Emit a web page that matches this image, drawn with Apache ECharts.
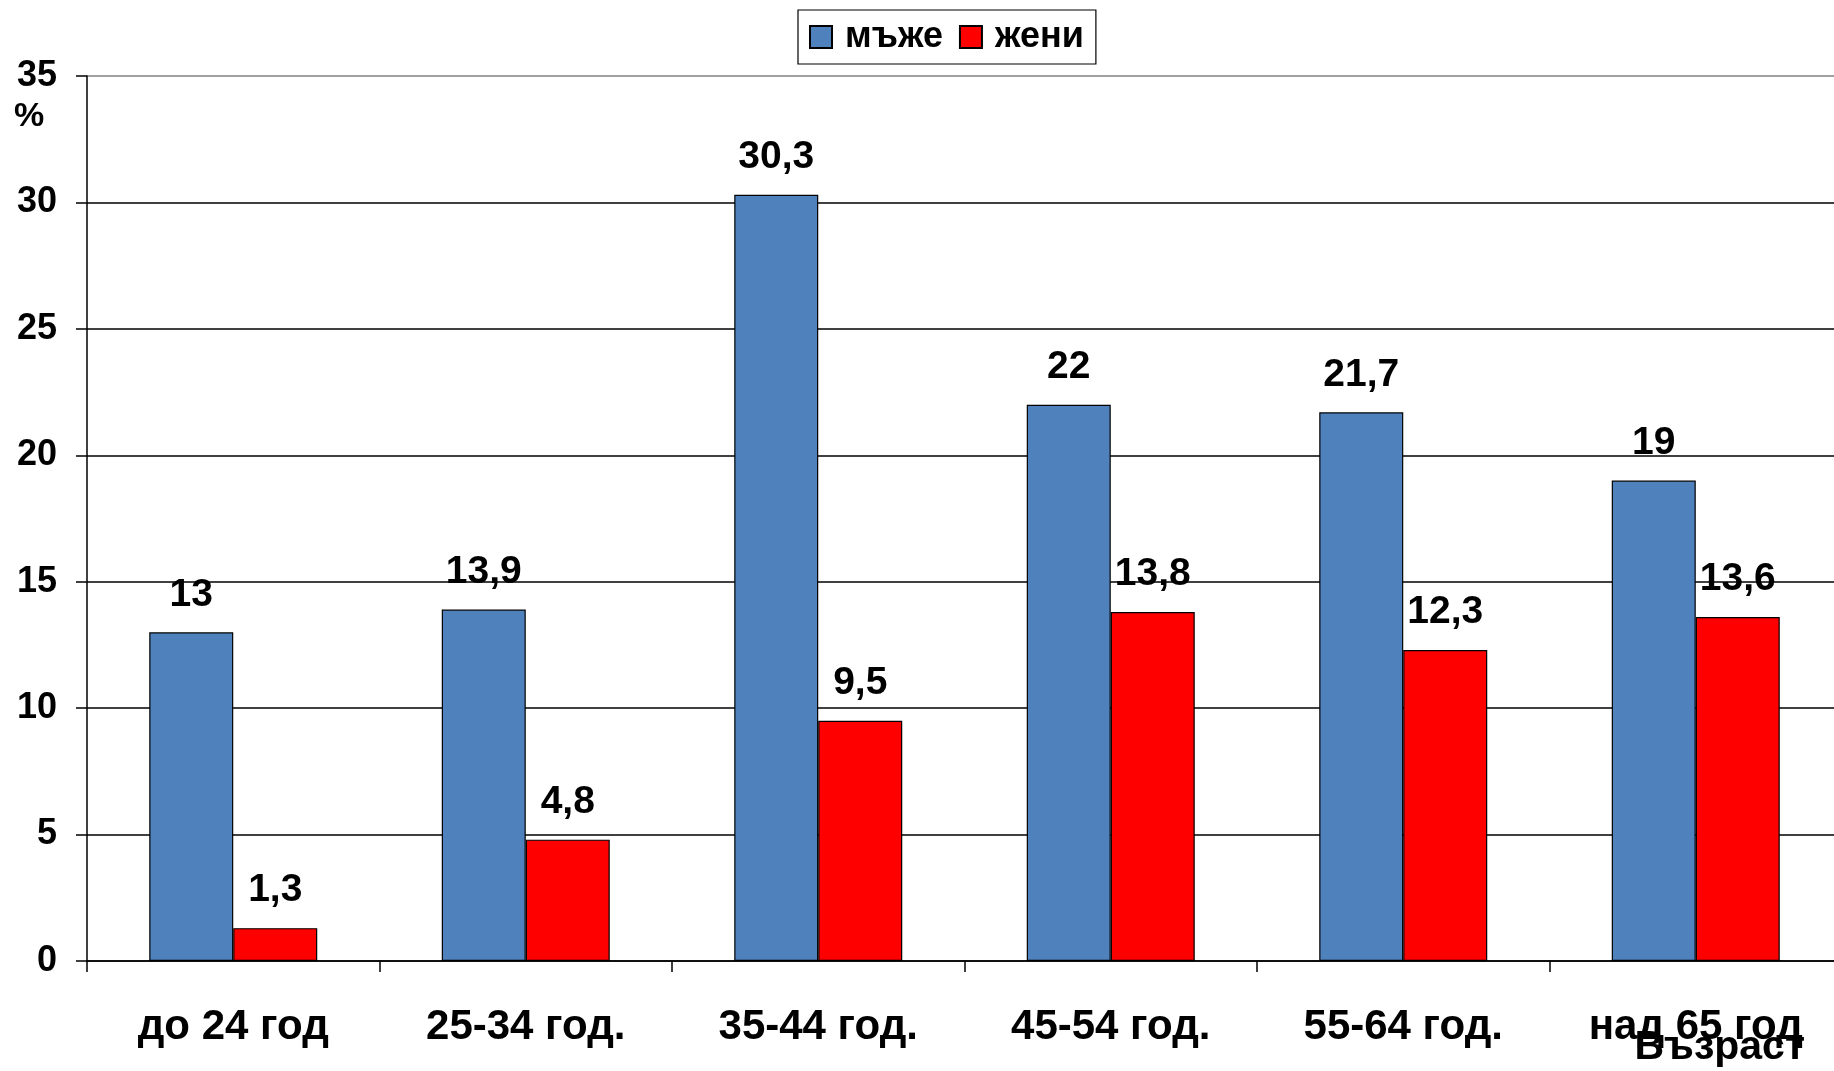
<!DOCTYPE html>
<html>
<head>
<meta charset="utf-8">
<script src="https://cdn.jsdelivr.net/npm/echarts@6/dist/echarts.min.js"></script>
<style>
  html, body { margin: 0; padding: 0; background: #fff; overflow: hidden; }
  /* the plot area runs a few pixels past the right edge of the window */
  #chart { width: 1842px; height: 1071px; }
</style>
</head>
<body>
<div id="chart"></div>
<script>
// Age groups
const categories = ['до 24 год', '25-34 год.', '35-44 год.', '45-54 год.', '55-64 год.', 'над 65 год'];
// Share (%) by sex
const men = [13, 13.9, 30.3, 22, 21.7, 19];
const women = [1.3, 4.8, 9.5, 13.8, 12.3, 13.6];
// Value axis ticks
const yMin = 0, yMax = 35, yStep = 5;

const FONT = '"Liberation Sans", Arial, sans-serif';
const fmt = p => String(p.value).replace('.', ',');

const labelStyle = {
  show: true,
  position: 'top',
  distance: 18,
  color: '#000',
  fontFamily: FONT,
  fontWeight: 'bold',
  fontSize: 39,
  lineHeight: 39,
  formatter: fmt
};

const chart = echarts.init(document.getElementById('chart'), null, { renderer: 'canvas' });
chart.setOption({
  animation: false,
  backgroundColor: '#fff',
  textStyle: { fontFamily: FONT },
  legend: {
    left: 798,
    top: 10,
    padding: [9, 12, 9, 11],
    itemWidth: 22,
    itemHeight: 22,
    itemGap: 16,
    borderColor: '#000',
    borderWidth: 1.2,
    icon: 'rect',
    textStyle: { fontFamily: FONT, fontWeight: 'bold', fontSize: 36, color: '#000', padding: [0, 0, 0, 8] },
    data: ['мъже', 'жени']
  },
  grid: { left: 87, right: 0, top: 76, bottom: 110, containLabel: false },
  xAxis: {
    type: 'category',
    data: categories,
    boundaryGap: true,
    axisLine: { lineStyle: { color: '#000', width: 1.5 } },
    axisTick: { show: true, length: 11, alignWithLabel: false, lineStyle: { color: '#000', width: 1.5 } },
    axisLabel: { margin: 45, color: '#000', fontFamily: FONT, fontWeight: 'bold', fontSize: 42, interval: 0 }
  },
  yAxis: {
    type: 'value',
    min: yMin,
    max: yMax,
    interval: yStep,
    axisLine: { show: true, lineStyle: { color: '#000', width: 1.5 } },
    axisTick: { show: true, length: 11, lineStyle: { color: '#000', width: 1.5 } },
    axisLabel: { margin: 30, color: '#000', fontFamily: FONT, fontWeight: 'bold', fontSize: 36 },
    splitLine: {
      show: true,
      lineStyle: { color: ['#000', '#000', '#000', '#000', '#000', '#000', '#000', '#808080'], width: 1.5 }
    }
  },
  series: [
    {
      name: 'мъже',
      type: 'bar',
      data: men,
      barWidth: 84,
      barGap: '0%',
      itemStyle: { color: '#4F81BD', borderColor: '#000', borderWidth: 1.2 },
      label: labelStyle
    },
    {
      name: 'жени',
      type: 'bar',
      data: women,
      barWidth: 84,
      barGap: '0%',
      itemStyle: { color: '#FF0000', borderColor: '#000', borderWidth: 1.2 },
      label: labelStyle
    }
  ],
  graphic: [
    {
      type: 'text',
      left: 14,
      top: 100,
      style: { text: '%', fontFamily: FONT, fontWeight: 'bold', fontSize: 34, fill: '#000' }
    },
    {
      type: 'text',
      right: 37,
      top: 1027,
      z: 10,
      style: { text: 'Възраст', fontFamily: FONT, fontWeight: 'bold', fontSize: 41, fill: '#000' }
    }
  ]
});
</script>
</body>
</html>
